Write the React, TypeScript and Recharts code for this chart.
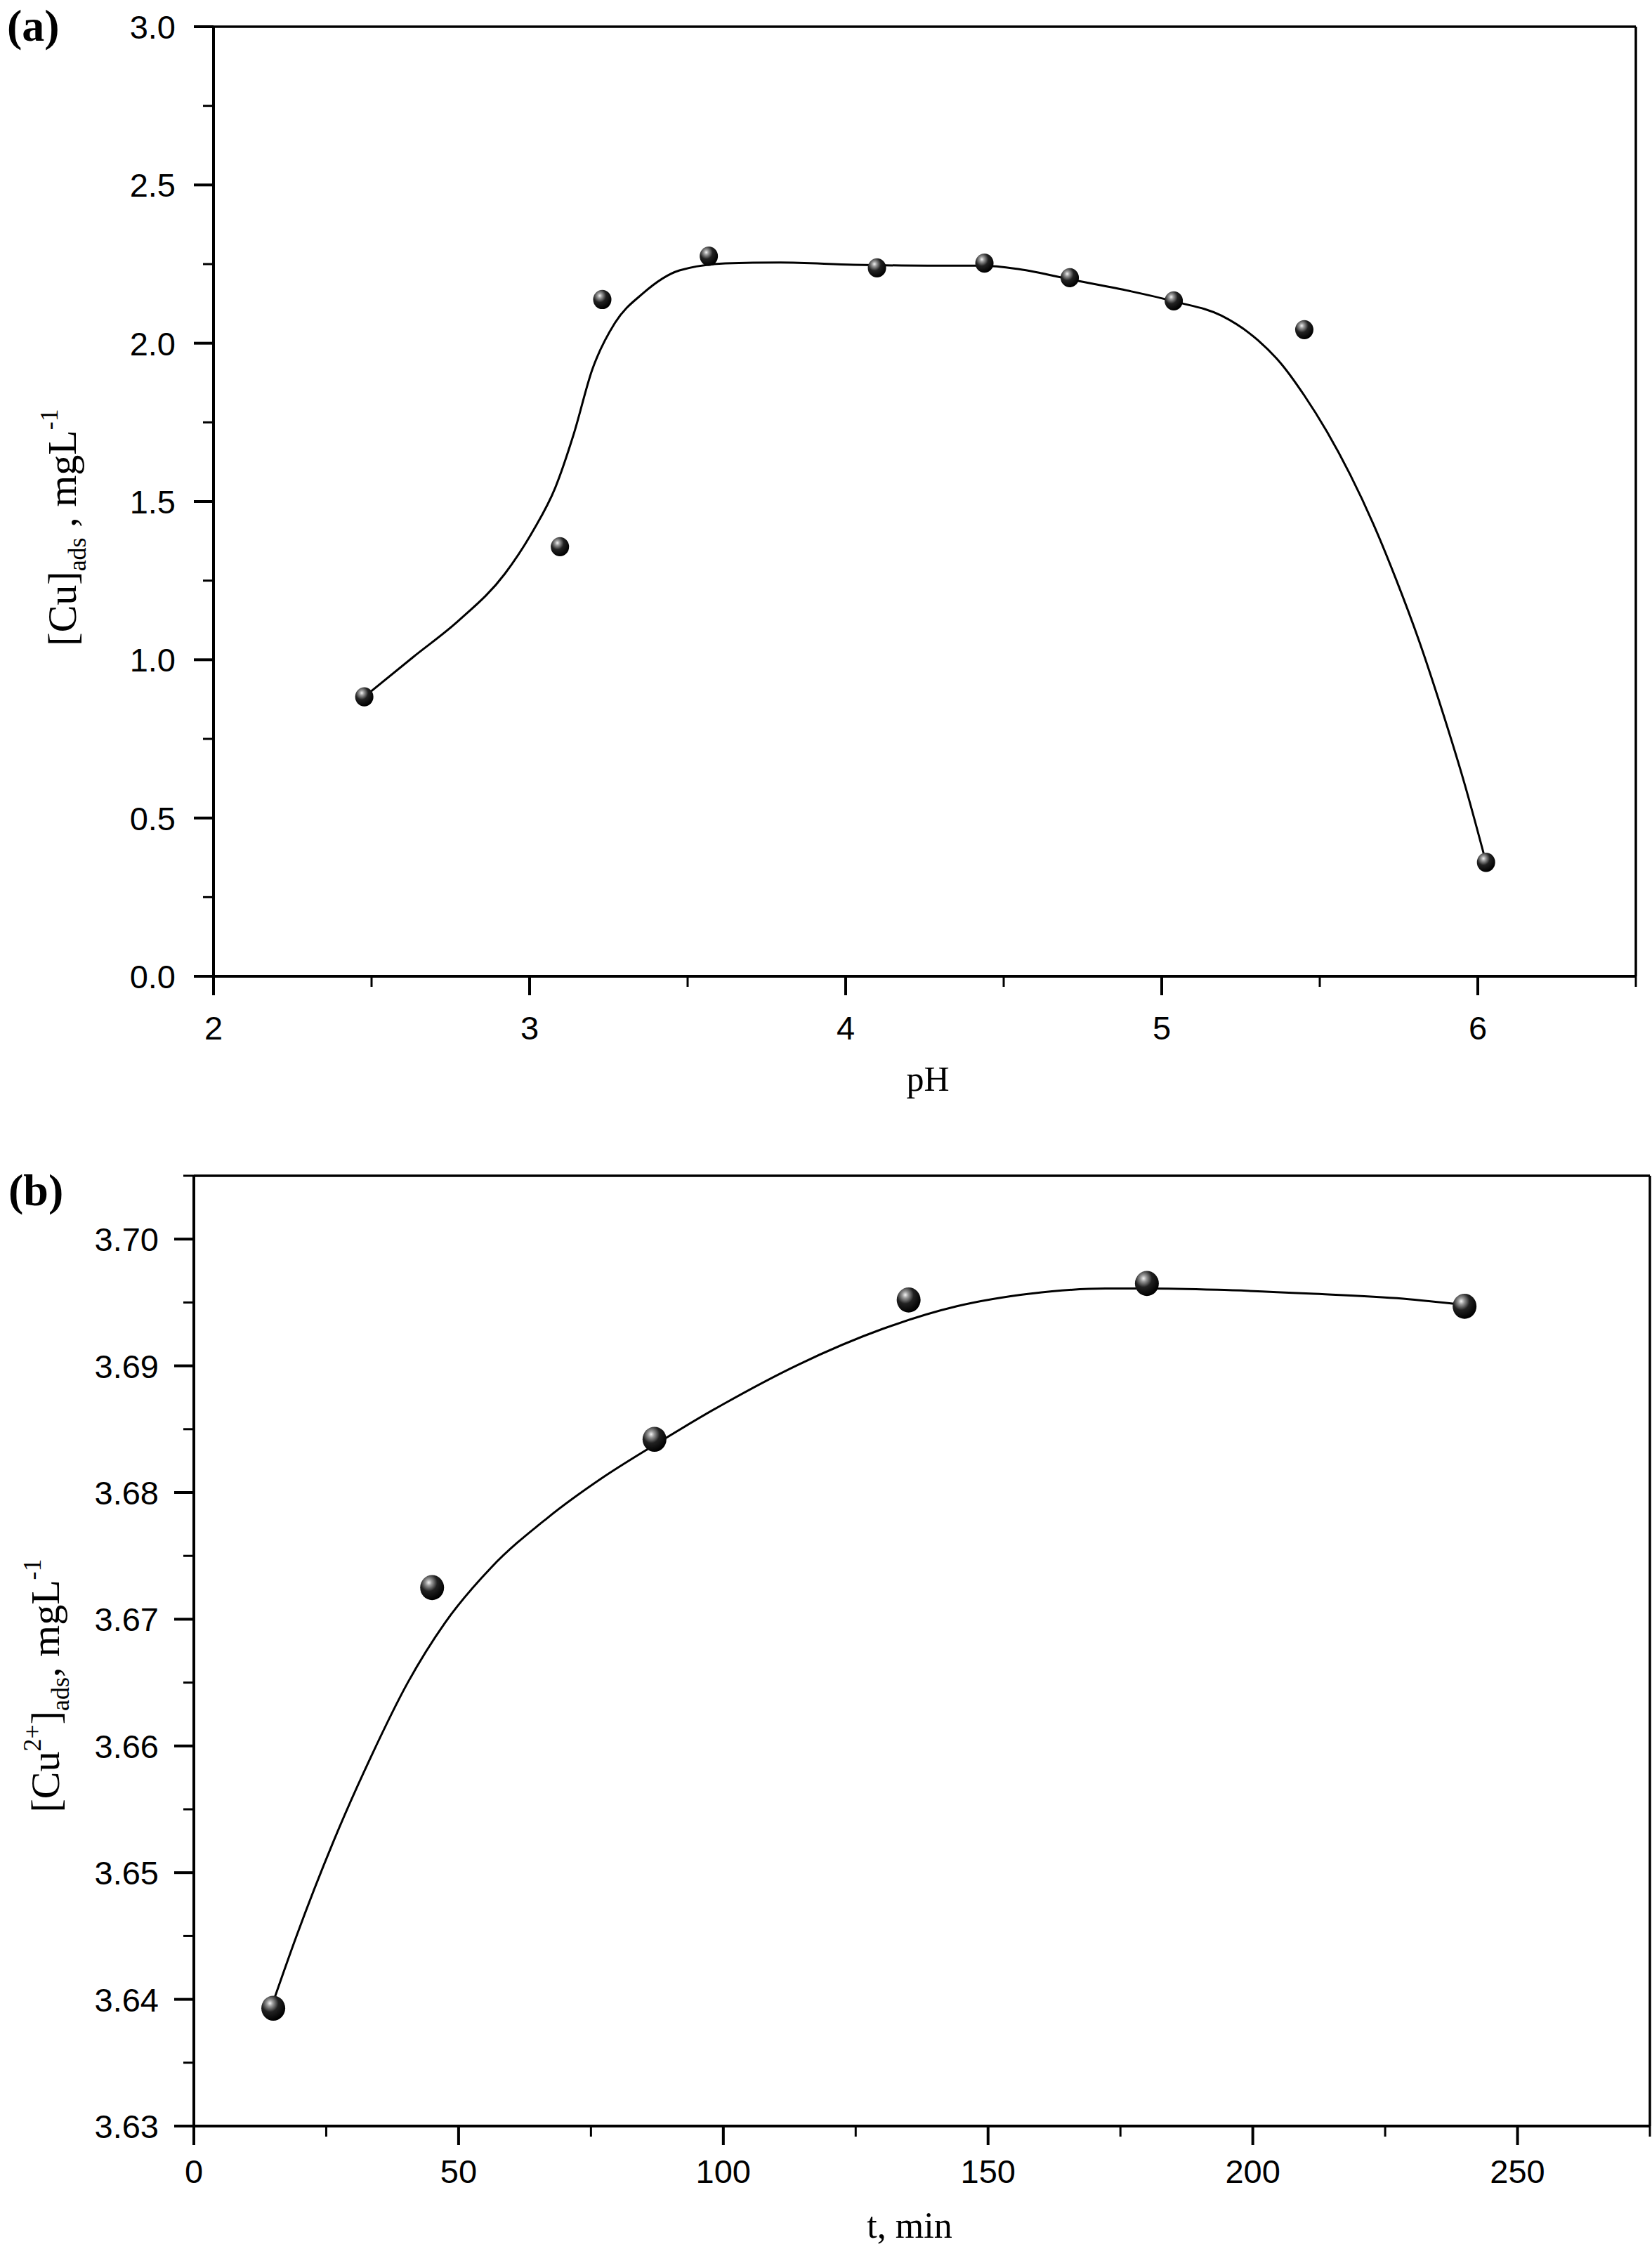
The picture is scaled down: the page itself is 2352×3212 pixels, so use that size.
import {
  ComposedChart,
  Label,
  Line,
  ReferenceLine,
  Scatter,
  XAxis,
  YAxis,
} from "recharts";

// panel (a): adsorbed Cu vs pH
const phPoints = [2.477, 3.096, 3.23, 3.567, 4.099, 4.439, 4.709, 5.038, 5.451, 6.026];
const cuByPh = [0.883, 1.357, 2.138, 2.275, 2.238, 2.253, 2.207, 2.134, 2.043, 0.36];
const phCurveX = [
  2.477, 2.631, 2.776, 2.922, 3.009, 3.081, 3.14, 3.198, 3.27, 3.358, 3.474, 3.619, 3.794,
  4.026, 4.259, 4.433, 4.549, 4.724, 4.898, 5.044, 5.189, 5.305, 5.378, 5.451, 5.523, 5.596,
  5.669, 5.741, 5.814, 5.887, 5.959, 6.026,
];
const phCurveY = [
  0.883, 1.008, 1.124, 1.272, 1.404, 1.543, 1.714, 1.916, 2.064, 2.157, 2.23, 2.252, 2.255,
  2.248, 2.245, 2.245, 2.234, 2.199, 2.165, 2.131, 2.087, 2.009, 1.935, 1.835, 1.72, 1.585,
  1.43, 1.255, 1.06, 0.84, 0.605, 0.36,
];
const phMajor = [2, 3, 4, 5, 6];
const phMinor = [2.5, 3.5, 4.5, 5.5, 6.5];
const cuMajorA = [0, 0.5, 1, 1.5, 2, 2.5, 3];
const cuMinorA = [0.25, 0.75, 1.25, 1.75, 2.25, 2.75];

// panel (b): adsorbed Cu2+ vs contact time
const timePoints = [15, 45, 87, 135, 180, 240];
const cuByTime = [3.6393, 3.6725, 3.6842, 3.6952, 3.6965, 3.6947];
const timeCurveX = [
  14.9, 19.3, 26.4, 33.4, 40.4, 47.4, 56.2, 66.8, 77.3, 86.8, 100.1, 114.2, 130, 144.1,
  158.1, 172.2, 180.1, 193.3, 210.8, 228.4, 240,
];
const timeCurveY = [
  3.6397, 3.6449, 3.6525, 3.6591, 3.665, 3.6697, 3.6741, 3.678, 3.6812, 3.6837, 3.687,
  3.6901, 3.6929, 3.6947, 3.6957, 3.6961, 3.6961, 3.696, 3.6957, 3.6953, 3.6948,
];
const timeMajor = [0, 50, 100, 150, 200, 250];
const timeMinor = [25, 75, 125, 175, 225, 275];
const cuMajorB = [3.63, 3.64, 3.65, 3.66, 3.67, 3.68, 3.69, 3.7];
const cuMinorB = [3.635, 3.645, 3.655, 3.665, 3.675, 3.685, 3.695, 3.705];

const zip = (xs: number[], ys: number[]) => xs.map((x, i) => ({ x, y: ys[i] }));

const SANS = "'Liberation Sans', Arial, sans-serif";
const SERIF = "'Liberation Serif', 'Times New Roman', serif";

const isMajor = (v: number, majors: number[]) => majors.some((m) => Math.abs(m - v) < 1e-6);

const BottomTick = (props: any) => {
  const { x, y, payload, majors, digits, gap } = props;
  const major = isMajor(payload.value, majors);
  return (
    <g>
      <line x1={x} x2={x} y1={y} y2={y + (major ? 27 : 15)} stroke="#000" strokeWidth={major ? 4 : 3} />
      {major && (
        <text x={x} y={y + gap} textAnchor="middle" fontSize={47} fontFamily={SANS} fill="#000">
          {payload.value.toFixed(digits)}
        </text>
      )}
    </g>
  );
};

const LeftTick = (props: any) => {
  const { x, y, payload, majors, digits, gap } = props;
  const major = isMajor(payload.value, majors);
  return (
    <g>
      <line x1={x} x2={x - (major ? 28 : 15)} y1={y} y2={y} stroke="#000" strokeWidth={major ? 4 : 3} />
      {major && (
        <text x={x - gap} y={y + 17} textAnchor="end" fontSize={47} fontFamily={SANS} fill="#000">
          {payload.value.toFixed(digits)}
        </text>
      )}
    </g>
  );
};

const ball = (r: number) => (props: any) => {
  const { cx, cy } = props;
  const id = `ball-${r}`;
  return (
    <g>
      <defs>
        <radialGradient id={id} cx="0.36" cy="0.3" r="0.7">
          <stop offset="0" stopColor="#f4f4f4" />
          <stop offset="0.18" stopColor="#9a9a9a" />
          <stop offset="0.5" stopColor="#222" />
          <stop offset="1" stopColor="#000" />
        </radialGradient>
      </defs>
      <ellipse cx={cx} cy={cy} rx={r} ry={r * 1.05} fill={`url(#${id})`} />
    </g>
  );
};

function PhChart() {
  return (
    <ComposedChart width={2352} height={1600} margin={{ top: 38, right: 23, left: 184, bottom: 60 }}>
      <XAxis
        dataKey="x"
        type="number"
        domain={[2, 6.5]}
        ticks={[...phMajor, ...phMinor].sort((a, b) => a - b)}
        interval={0}
        tickSize={0}
        tickMargin={0}
        tickLine={false}
        axisLine={{ stroke: "#000", strokeWidth: 4 }}
        tick={<BottomTick majors={phMajor} digits={0} gap={90} />}
        height={150}
      >
        <Label
          content={() => (
            <text x={1321} y={1553} textAnchor="middle" fontSize={50} fontFamily={SERIF} fill="#000">
              pH
            </text>
          )}
        />
      </XAxis>
      <YAxis
        type="number"
        domain={[0, 3]}
        ticks={[...cuMajorA, ...cuMinorA].sort((a, b) => a - b)}
        interval={0}
        tickSize={0}
        tickMargin={0}
        tickLine={false}
        axisLine={{ stroke: "#000", strokeWidth: 4 }}
        tick={<LeftTick majors={cuMajorA} digits={1} gap={54} />}
        width={120}
      >
        <Label
          content={() => (
            <text
              x={108}
              y={751}
              transform="rotate(-90 108 751)"
              textAnchor="middle"
              fontSize={58}
              fontFamily={SERIF}
              fill="#000"
            >
              [Cu]
              <tspan dy={14} fontSize={36}>ads</tspan>
              <tspan dy={-14}> ,  mgL</tspan>
              <tspan dy={-26} fontSize={36}>-1</tspan>
            </text>
          )}
        />
      </YAxis>
      <ReferenceLine y={3} stroke="#000" strokeWidth={3.5} />
      <ReferenceLine x={6.5} stroke="#000" strokeWidth={3.5} />
      <Line
        data={zip(phCurveX, phCurveY)}
        dataKey="y"
        type="monotone"
        stroke="#000"
        strokeWidth={3}
        dot={false}
        activeDot={false}
        isAnimationActive={false}
      />
      <Scatter data={zip(phPoints, cuByPh)} dataKey="y" shape={ball(13)} isAnimationActive={false} />
    </ComposedChart>
  );
}

function TimeChart() {
  return (
    <ComposedChart width={2352} height={1612} margin={{ top: 74, right: 3, left: 156, bottom: 35 }}>
      <XAxis
        dataKey="x"
        type="number"
        domain={[0, 275]}
        ticks={[...timeMajor, ...timeMinor].sort((a, b) => a - b)}
        interval={0}
        tickSize={0}
        tickMargin={0}
        tickLine={false}
        axisLine={{ stroke: "#000", strokeWidth: 4 }}
        tick={<BottomTick majors={timeMajor} digits={0} gap={81} />}
        height={150}
      >
        <Label
          content={() => (
            <text x={1295} y={1586} textAnchor="middle" fontSize={52} fontFamily={SERIF} fill="#000">
              t, min
            </text>
          )}
        />
      </XAxis>
      <YAxis
        type="number"
        domain={[3.63, 3.705]}
        ticks={[...cuMajorB, ...cuMinorB].sort((a, b) => a - b)}
        interval={0}
        tickSize={0}
        tickMargin={0}
        tickLine={false}
        allowDataOverflow
        axisLine={{ stroke: "#000", strokeWidth: 4 }}
        tick={<LeftTick majors={cuMajorB} digits={2} gap={50} />}
        width={120}
      >
        <Label
          content={() => (
            <text
              x={84}
              y={800}
              transform="rotate(-90 84 800)"
              textAnchor="middle"
              fontSize={58}
              fontFamily={SERIF}
              fill="#000"
            >
              [Cu
              <tspan dy={-26} fontSize={36}>2+</tspan>
              <tspan dy={26}>]</tspan>
              <tspan dy={14} fontSize={36}>ads</tspan>
              <tspan dy={-14}>,  mgL</tspan>
              <tspan dy={-26} fontSize={36}>-1</tspan>
            </text>
          )}
        />
      </YAxis>
      <ReferenceLine y={3.705} stroke="#000" strokeWidth={3.5} />
      <ReferenceLine x={275} stroke="#000" strokeWidth={3.5} />
      <Line
        data={zip(timeCurveX, timeCurveY)}
        dataKey="y"
        type="monotone"
        stroke="#000"
        strokeWidth={3}
        dot={false}
        activeDot={false}
        isAnimationActive={false}
      />
      <Scatter data={zip(timePoints, cuByTime)} dataKey="y" shape={ball(17)} isAnimationActive={false} />
    </ComposedChart>
  );
}

export default function App() {
  return (
    <div style={{ position: "absolute", left: 0, top: 0, width: 2352, height: 3212, background: "#fff" }}>
      <div style={{ position: "absolute", left: 0, top: 0 }}>
        <PhChart />
      </div>
      <div style={{ position: "absolute", left: 0, top: 1600 }}>
        <TimeChart />
      </div>
      <svg width={2352} height={3212} style={{ position: "absolute", left: 0, top: 0, pointerEvents: "none" }}>
        <text x={10} y={58} fontSize={64} fontWeight="bold" fontFamily={SERIF} fill="#000">
          (a)
        </text>
        <text x={12} y={1716} fontSize={64} fontWeight="bold" fontFamily={SERIF} fill="#000">
          (b)
        </text>
      </svg>
    </div>
  );
}
